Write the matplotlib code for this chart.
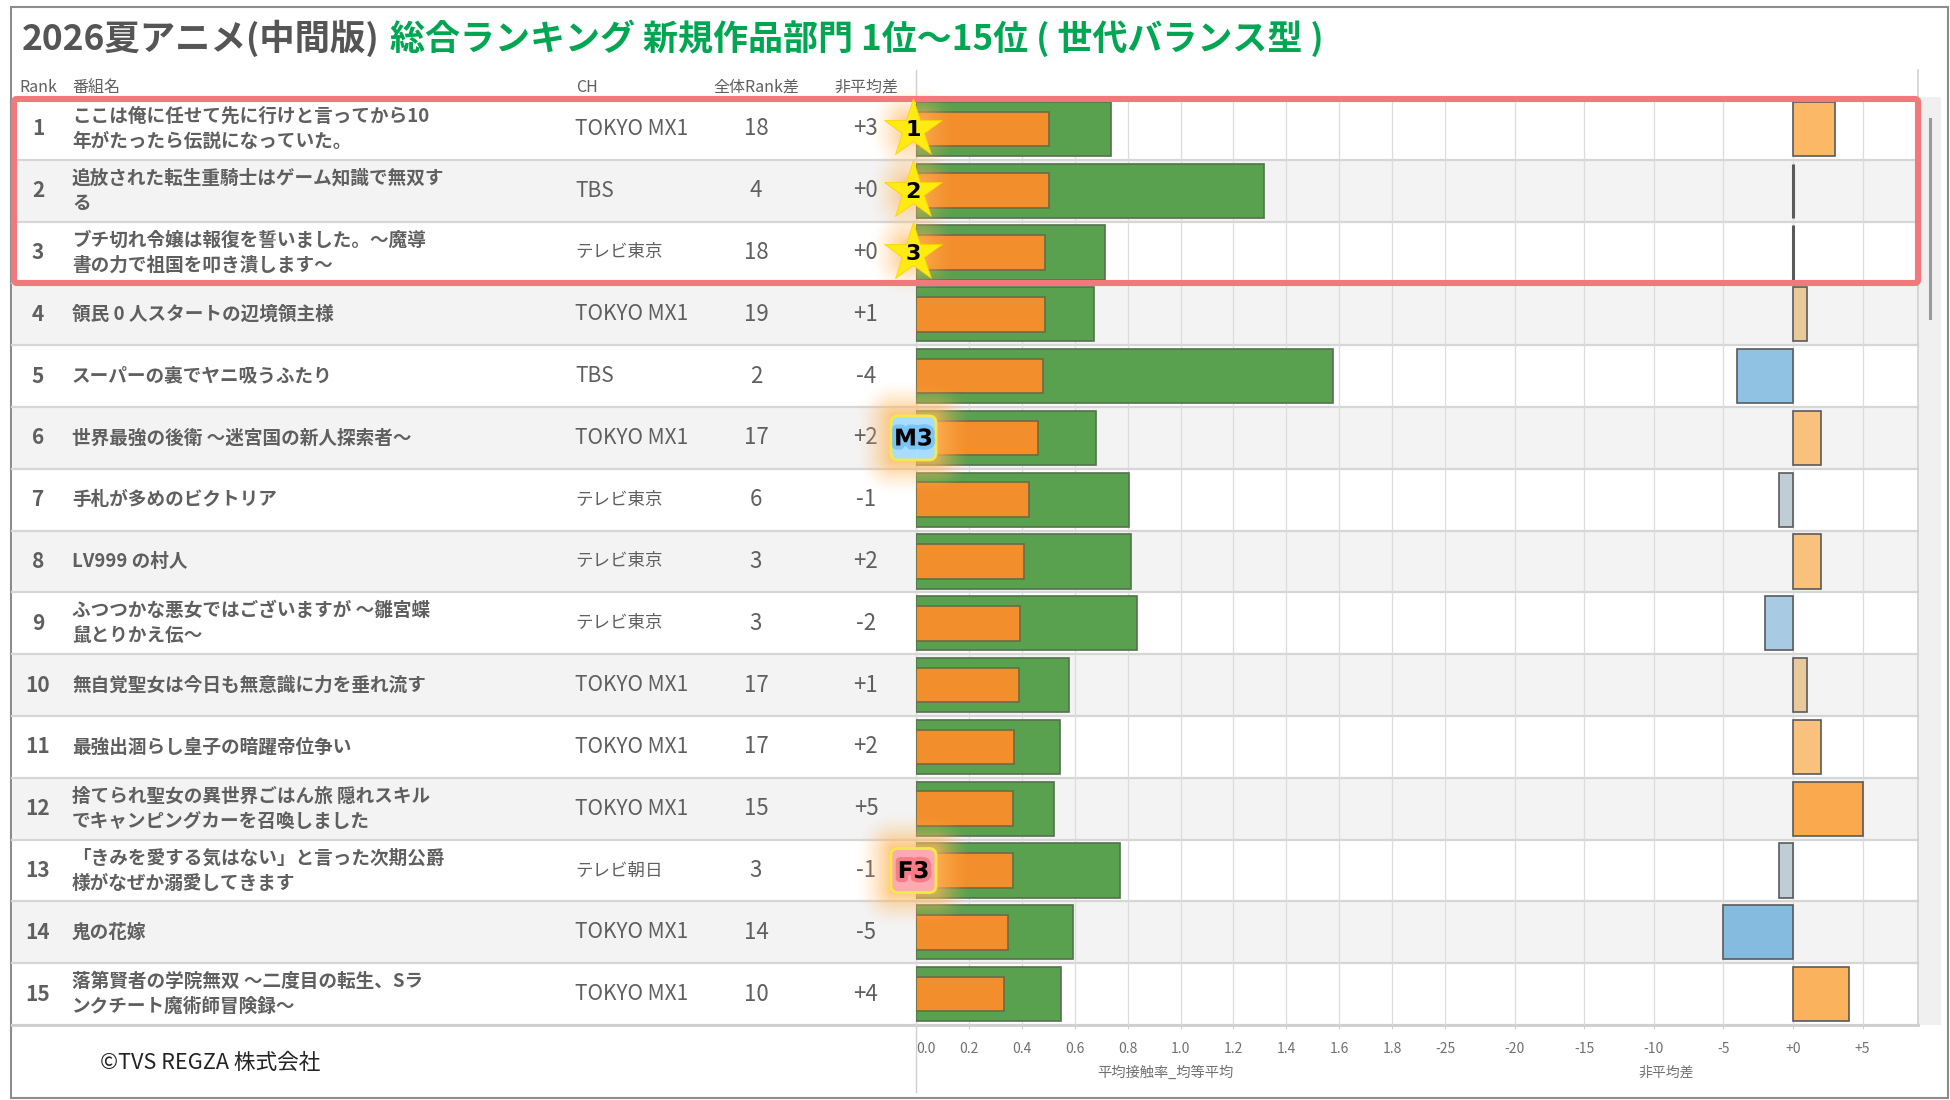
import numpy as np
import matplotlib
matplotlib.use('Agg')
import matplotlib.pyplot as plt
from matplotlib.patches import FancyBboxPatch, Rectangle
import matplotlib.patheffects as pe

plt.rcParams['font.family'] = ['Noto Sans CJK JP', 'DejaVu Sans']

ranks = list(range(1, 16))
titles = [
    'ここは俺に任せて先に行けと言ってから10\n年がたったら伝説になっていた。',
    '追放された転生重騎士はゲーム知識で無双す\nる',
    'ブチ切れ令嬢は報復を誓いました。～魔導\n書の力で祖国を叩き潰します～',
    '領民 0 人スタートの辺境領主様',
    'スーパーの裏でヤニ吸うふたり',
    '世界最強の後衛 ～迷宮国の新人探索者～',
    '手札が多めのビクトリア',
    'LV999 の村人',
    'ふつつかな悪女ではございますが ～雛宮蝶\n鼠とりかえ伝～',
    '無自覚聖女は今日も無意識に力を垂れ流す',
    '最強出涸らし皇子の暗躍帝位争い',
    '捨てられ聖女の異世界ごはん旅 隠れスキル\nでキャンピングカーを召喚しました',
    '「きみを愛する気はない」と言った次期公爵\n様がなぜか溺愛してきます',
    '鬼の花嫁',
    '落第賢者の学院無双 ～二度目の転生、Sラ\nンクチート魔術師冒険録～',
]
channels = ['TOKYO MX1', 'TBS', 'テレビ東京', 'TOKYO MX1', 'TBS', 'TOKYO MX1', 'テレビ東京',
            'テレビ東京', 'テレビ東京', 'TOKYO MX1', 'TOKYO MX1', 'TOKYO MX1', 'テレビ朝日',
            'TOKYO MX1', 'TOKYO MX1']
rank_diff = [18, 4, 18, 19, 2, 17, 6, 3, 3, 17, 17, 15, 3, 14, 10]
gap = [3, 0, 0, 1, -4, 2, -1, 2, -2, 1, 2, 5, -1, -5, 4]
reach_all = [.738, 1.314, .715, .672, 1.578, .682, .804, .814, .837, .578, .545, .521, .771, .592, .55]
reach_avg = [.502, .502, .488, .488, .479, .46, .427, .408, .394, .389, .37, .366, .366, .347, .333]
gap_colors = {-5: '#85BBDF', -4: '#90C2E3', -2: '#A8CAE2', -1: '#BECDD6', 0: '#D0D0D0',
              1: '#E8C99C', 2: '#F9C27C', 3: '#FBB866', 4: '#FBB25C', 5: '#FBA94E'}
left_ticks = [0, .2, .4, .6, .8, 1.0, 1.2, 1.4, 1.6, 1.8]
right_ticks = [-25, -20, -15, -10, -5, 0, 5]
right_labels = ['-25', '-20', '-15', '-10', '-5', '+0', '+5']

W, H = 1950, 1100
TOP, BOTTOM = 98, 1025
ROW = (BOTTOM - TOP) / 15
GRAY = '#5F5F5F'


def px_axes(x0, y0, x1, y1, z):
    a = fig.add_axes([x0 / W, 1 - y1 / H, (x1 - x0) / W, (y1 - y0) / H], zorder=z)
    return a


def glow(a, cx, cy, half_w, half_h, reach, alpha=.75):
    xs = np.arange(cx - half_w - reach, cx + half_w + reach)
    ys = np.arange(cy - half_h - reach, cy + half_h + reach)
    gx, gy = np.meshgrid(xs, ys)
    d = np.hypot(np.maximum(np.abs(gx - cx) - half_w, 0), np.maximum(np.abs(gy - cy) - half_h, 0))
    rgba = np.zeros(gx.shape + (4,))
    rgba[..., :3] = (1, .72, .36)
    rgba[..., 3] = alpha * np.clip(1 - d / reach, 0, 1) ** 1.5
    a.imshow(rgba, extent=(xs[0], xs[-1], ys[-1], ys[0]), aspect='auto', interpolation='bilinear')


fig = plt.figure(figsize=(W / 100, H / 100), dpi=100, facecolor='white')

# table part, in pixel coordinates
base = px_axes(0, 0, W, H, 0)
base.set_xlim(0, W)
base.set_ylim(H, 0)
base.axis('off')
base.add_patch(Rectangle((11, 7), W - 13, H - 9, fc='white', ec='#8C8C8C', lw=1.5))

base.text(22, 38, '2026夏アニメ(中間版)', fontsize=25.5, fontweight='bold', color='#555555', va='center')
base.text(390, 38, '総合ランキング 新規作品部門 1位～15位 ( 世代バランス型 )', fontsize=25.2,
          fontweight='bold', color='#00A651', va='center')

head_y = 87
base.text(38, head_y, 'Rank', fontsize=11.5, color=GRAY, ha='center', va='center')
base.text(72, head_y, '番組名', fontsize=11.5, color=GRAY, va='center')
base.text(576, head_y, 'CH', fontsize=11.5, color=GRAY, va='center')
base.text(756, head_y, '全体Rank差', fontsize=11.5, color=GRAY, ha='center', va='center')
base.text(866, head_y, '非平均差', fontsize=11.5, color=GRAY, ha='center', va='center')

for i in range(15):
    y = TOP + ROW * i
    if i % 2 == 1:
        base.add_patch(Rectangle((12, y), 1906, ROW, fc='#F3F3F3', ec='none', zorder=1))
    base.plot([12, 1918], [y + ROW, y + ROW], color='#D6D6D6', lw=1.6, zorder=1.5)
    cy = y + ROW / 2
    base.text(38, cy, str(ranks[i]), fontsize=15, fontweight='bold', color=GRAY, ha='center', va='center', zorder=3)
    base.text(72, cy, titles[i], fontsize=13.4, fontweight='bold', color=GRAY, va='center', linespacing=1.42, zorder=3)
    ch_size = 15 if channels[i].isascii() else 12.6
    base.text(575, cy, channels[i], fontsize=ch_size, color=GRAY, va='center', zorder=3)
    base.text(756, cy, str(rank_diff[i]), fontsize=16, color=GRAY, ha='center', va='center', zorder=3)
    base.text(866, cy, f'{gap[i]:+d}', fontsize=16, color=GRAY, ha='center', va='center', zorder=3)

base.plot([916, 916], [70, 1092], color='#D0D0D0', lw=1, zorder=2)
base.plot([1918, 1918], [70, BOTTOM], color='#D0D0D0', lw=1.2, zorder=2)
base.plot([12, 1918], [BOTTOM, BOTTOM], color='#CFCFCF', lw=2, zorder=2)
base.add_patch(Rectangle((1919, 97), 22, BOTTOM - 97, fc='#F0F0F0', ec='none', zorder=1))
base.plot([1930, 1930], [119, 318], color='#9A9A9A', lw=2.2, zorder=2)
base.text(100, 1063, '©TVS REGZA 株式会社', fontsize=15.6, color='#222222', va='center')
base.text(1165, 1073, '平均接触率_均等平均', fontsize=10.3, color='#707070', ha='center', va='center')
base.text(1666, 1073, '非平均差', fontsize=10, color='#707070', ha='center', va='center')

# bars
pos = np.arange(15) + .5
ax1 = px_axes(916, TOP, 1445, BOTTOM, 1)
ax1.barh(pos, reach_all, height=.88, color='#59A14F', edgecolor='#55704F', lw=1.2, zorder=3)
ax1.barh(pos, reach_avg, height=.56, color='#F28E2B', edgecolor='#6B6B45', lw=1.2, zorder=4)
ax1.set_xlim(0, 2.0)
ax1.set_xticks(left_ticks)
ax1.set_xticklabels([f'{t:.1f}' for t in left_ticks])
ax1.get_xticklabels()[0].set_ha('left')

ax2 = px_axes(1445, TOP, 1918, BOTTOM, 1)
ax2.barh(pos, gap, height=.88, color=[gap_colors[g] for g in gap], edgecolor='#5A5A5A',
         linewidth=[2.2 if g == 0 else 1.2 for g in gap], zorder=3)
ax2.set_xlim(-25, 8.98)
ax2.set_xticks(right_ticks)
ax2.set_xticklabels(right_labels)

for a in (ax1, ax2):
    a.set_ylim(15, 0)
    a.patch.set_alpha(0)
    a.set_yticks([])
    for s in a.spines.values():
        s.set_visible(False)
    a.grid(axis='x', color='#DCDCDC', lw=.9, zorder=0)
    a.set_axisbelow(True)
    a.tick_params(axis='x', length=3, width=.8, color='#D0D0D0', labelcolor='#707070', labelsize=10, pad=9)

# highlight frame and badges on top
top = px_axes(0, 0, W, H, 2)
top.patch.set_alpha(0)
top.axis('off')

top.add_patch(FancyBboxPatch((14, 99), 1904, 184, boxstyle='round,pad=0,rounding_size=3',
                             fc='none', ec='#F4777C', lw=4.4, zorder=2))

for i in range(3):
    cy = TOP + ROW * (i + .5)
    glow(top, 913, cy, 8, 8, 36, .7)
    top.plot([913], [cy], marker='*', ms=44, mfc='#FFEB12', mec='#F7D100', mew=.5, zorder=4)
    top.text(913, cy + 1, str(ranks[i]), fontsize=16, fontweight='bold', color='black', family='DejaVu Sans',
             ha='center', va='center', zorder=5)

for rank, label, face, shade in [(6, 'M3', '#A9DDFF', '#5FB4F0'), (13, 'F3', '#FFA9B0', '#F0606E')]:
    cy = TOP + ROW * (rank - .5)
    glow(top, 913.5, cy, 20, 20, 38, .85)
    top.add_patch(FancyBboxPatch((891, cy - 22), 45, 44, boxstyle='round,pad=0,rounding_size=7',
                                 fc=face, ec='#F5E84A', lw=2, zorder=4))
    top.text(913.5, cy + 1, label, fontsize=16.5, fontweight='bold', color='black', family='DejaVu Sans',
             ha='center', va='center', zorder=5,
             path_effects=[pe.withStroke(linewidth=6, foreground=shade, alpha=.6)])

top.set_xlim(0, W)
top.set_ylim(H, 0)

fig.savefig('out.png', dpi=100)
